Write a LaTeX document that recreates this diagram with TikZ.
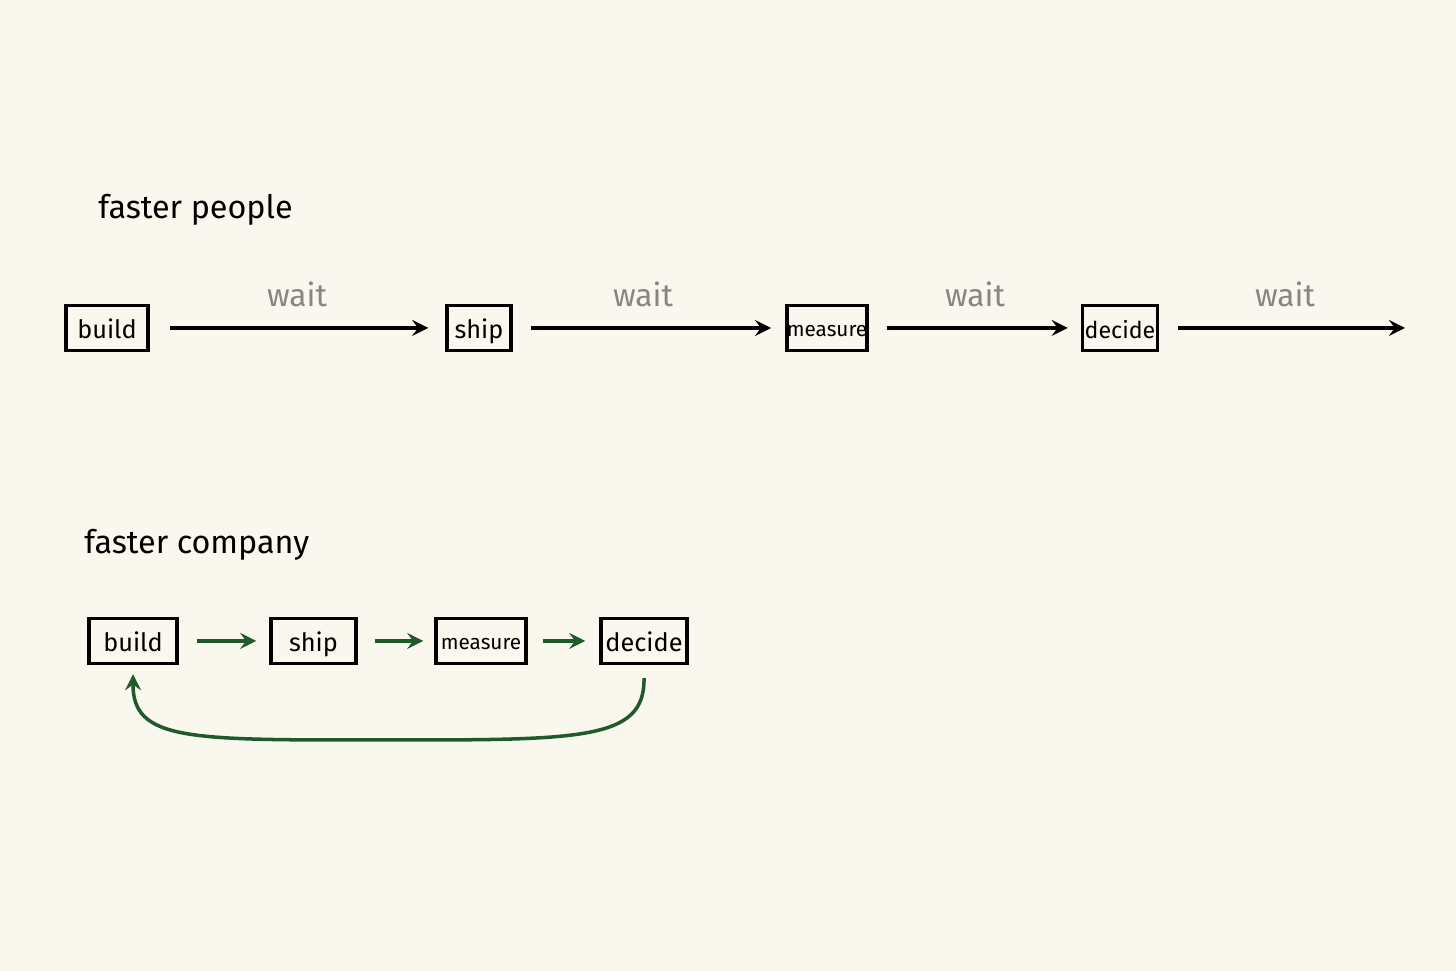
\documentclass[tikz,border=0pt]{standalone}
\usepackage{fontspec}
\setmainfont{Fira Sans}
\definecolor{paper}{HTML}{FAF7EF}
\definecolor{loopgreen}{HTML}{1F5A2A}
\definecolor{faded}{HTML}{8A8580}
\tikzset{
    stage/.style={draw,line width=1pt,inner sep=0pt,minimum height=0.45cm,
        text height=1.5ex,text depth=0.35ex,font=\fontsize{7.2}{8}\selectfont},
    small/.style={font=\fontsize{5.9}{7}\selectfont,text height=1.4ex,text depth=0.5ex},
    flow/.style={line width=1pt,->,>=stealth},
    fast/.style={flow,loopgreen},
    waitlbl/.style={text=faded,font=\fontsize{9}{10}\selectfont},
    title/.style={anchor=west,font=\fontsize{9.2}{11}\selectfont}
}
\begin{document}
\begin{tikzpicture}
        \fill[paper] (0,0) rectangle (14.56,9.71);
        \useasboundingbox (0,0) rectangle (14.56,9.71);

        \node[title] (tp) at (0.86,7.61) {faster people};
        \node[stage,minimum width=0.82cm] (b1) at (1.07,6.43) {build};
        \node[stage,minimum width=0.64cm] (s1) at (4.79,6.43) {ship};
        \node[stage,small,minimum width=0.80cm] (m1) at (8.27,6.43) {measure};
        \node[stage,minimum width=0.75cm,font=\fontsize{6.6}{8}\selectfont] (d1) at (11.20,6.43) {decide};
        \coordinate (end) at (14.05,6.43);

        \draw[flow] ([xshift=0.2cm]b1.east) -- ([xshift=-0.17cm]s1.west);
        \draw[flow] ([xshift=0.18cm]s1.east) -- ([xshift=-0.14cm]m1.west);
        \draw[flow] ([xshift=0.18cm]m1.east) -- ([xshift=-0.13cm]d1.west);
        \draw[flow] ([xshift=0.19cm]d1.east) -- (end);

        \foreach \x in {2.97,6.43,9.75,12.85}
            \node[waitlbl] at (\x,6.77) {wait};

        \node[title] (tc) at (0.72,4.26) {faster company};
        \node[stage,minimum width=0.88cm] (b2) at (1.33,3.30) {build};
        \node[stage,minimum width=0.85cm] (s2) at (3.135,3.30) {ship};
        \node[stage,small,minimum width=0.90cm] (m2) at (4.81,3.30) {measure};
        \node[stage,minimum width=0.86cm] (d2) at (6.44,3.30) {decide};

        \draw[fast] ([xshift=0.18cm]b2.east) -- ([xshift=-0.13cm]s2.west);
        \draw[fast] ([xshift=0.17cm]s2.east) -- ([xshift=-0.11cm]m2.west);
        \draw[fast] ([xshift=0.15cm]m2.east) -- ([xshift=-0.14cm]d2.west);
        \draw[fast] ([yshift=-0.13cm]d2.south) .. controls (6.45,2.3) and (5.8,2.31) .. (3.8,2.31)
            .. controls (1.9,2.31) and (1.33,2.3) .. ([yshift=-0.09cm]b2.south);
\end{tikzpicture}
\end{document}
